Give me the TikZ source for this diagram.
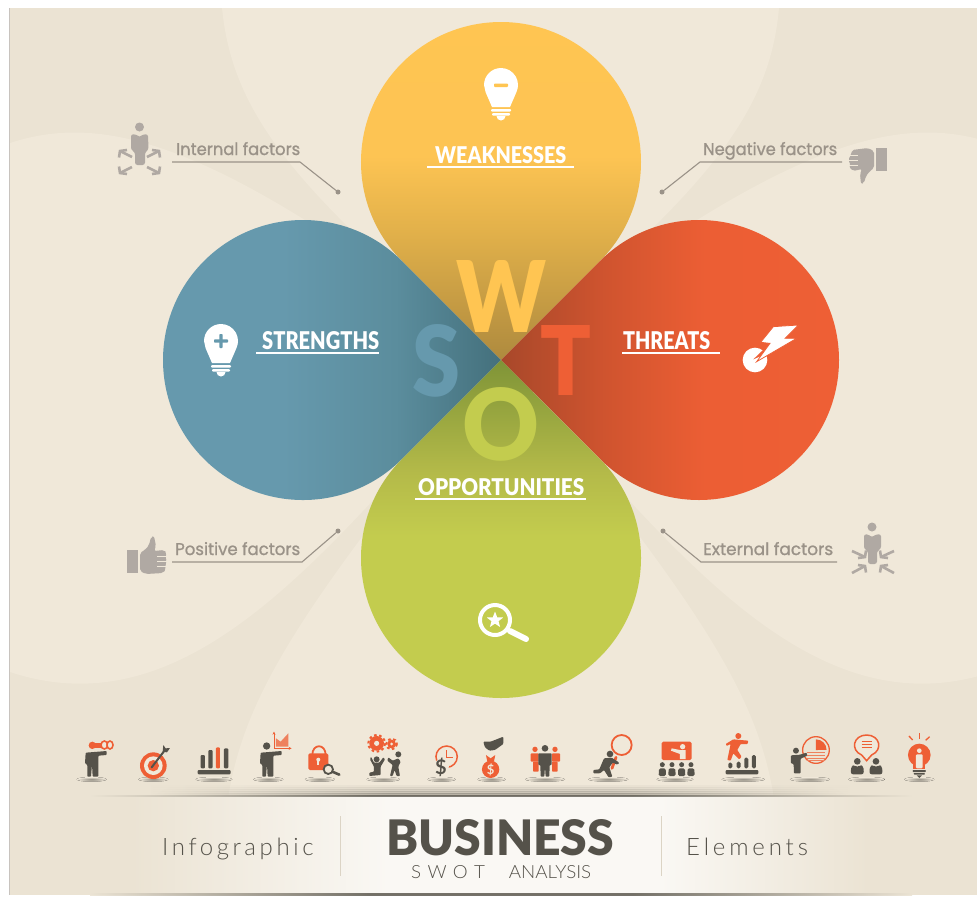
\documentclass[tikz,border=0pt]{standalone}
\usepackage{fontspec}
\usepackage{graphicx}
\usetikzlibrary{arrows.meta}
\setmainfont{Lato}
\newfontfamily\labfont[FakeBold=1]{Poppins}
\newfontfamily\thinfont{Lato Light}
\newfontfamily\heavyfont{Lato Black}
\definecolor{bgd}{HTML}{EBE3D3}
\definecolor{bgl}{HTML}{F0E8D9}
\definecolor{dk}{HTML}{55524A}
\definecolor{org}{HTML}{EE5F35}
\definecolor{gtx}{HTML}{9A9288}
\definecolor{gic}{HTML}{B0A9A3}
\definecolor{yel}{HTML}{FFC552}
\definecolor{blu}{HTML}{6699AD}
\definecolor{grn}{HTML}{C3CC4E}
\definecolor{ya}{HTML}{AE8A3E}\definecolor{yb}{HTML}{E1B04A}\definecolor{yc}{HTML}{FDC453}
\definecolor{ba}{HTML}{44707C}\definecolor{bb}{HTML}{5B8D9D}
\definecolor{ra}{HTML}{A8482A}\definecolor{rb}{HTML}{D0542F}\definecolor{rc}{HTML}{EC5E34}
\definecolor{ga}{HTML}{7F9437}\definecolor{gb}{HTML}{B4BA49}
\definecolor{bandw}{HTML}{FAF8F4}
\definecolor{shd}{HTML}{5E5B52}
\pgfdeclareverticalshading{ptop}{100bp}{color(0bp)=(ya);color(25bp)=(ya);color(43bp)=(yb);color(54bp)=(yc);color(75bp)=(yel);color(100bp)=(yel)}
\pgfdeclarehorizontalshading{pleft}{100bp}{color(0bp)=(blu);color(44bp)=(blu);color(60bp)=(bb);color(75bp)=(ba);color(100bp)=(ba)}
\pgfdeclarehorizontalshading{pright}{100bp}{color(0bp)=(ra);color(25bp)=(ra);color(40bp)=(rb);color(54bp)=(rc);color(75bp)=(org);color(100bp)=(org)}
\pgfdeclareverticalshading{pbot}{100bp}{color(0bp)=(grn);color(50bp)=(grn);color(59bp)=(gb);color(75bp)=(ga);color(100bp)=(ga)}
\pgfdeclarehorizontalshading{bandsh}{100bp}{color(0bp)=(bgd);color(27bp)=(bgd);color(43bp)=(bandw);color(60bp)=(bandw);color(73bp)=(bgd);color(100bp)=(bgd)}
\pgfdeclarehorizontalshading{lineh}{100bp}{color(0bp)=(bgd);color(25bp)=(bgd);color(42bp)=(shd);color(58bp)=(shd);color(75bp)=(bgd);color(100bp)=(bgd)}
\tikzset{
 headtxt/.style={text=white,inner sep=0pt,font=\heavyfont},
 factxt/.style={text=gtx,inner sep=0pt,font=\labfont\fontsize{13.5}{14}\selectfont,anchor=base west},
 bigl/.style={inner sep=0pt,font=\heavyfont\fontsize{100}{100}\selectfont},
 uline/.style={white,line width=2.2pt},
 lead/.style={gtx,line width=1.1pt},
 leaddot/.style={circle,fill=gtx,draw=none,inner sep=0pt,minimum size=5pt},
 iconarr/.style={gic,line width=2.6pt,line join=miter},
 shadow/.style={inner color=shd!65!bgl,outer color=bgl,draw=none},
}
\newcommand{\fitbox}[3]{\resizebox{#1pt}{#2pt}{#3}}
% arrow: tip at (#1,#2), pointing in sign directions #3,#4, tail at (#5,#6)
\newcommand{\chevarr}[6]{%
 \draw[iconarr] (#5,#6) -- (#1,#2);
 \draw[iconarr] (#1-#3*7,#2+#4*1) -- (#1,#2) -- (#1+#3*1,#2-#4*6.5);
}
\newcommand{\bulbicon}[3]{%
 \fill[white] (#1-17,#2) arc[start angle=180,end angle=-25,radius=17pt] -- (#1+9,#2+22) -- (#1-9,#2+22) -- (#1-15.4,#2+7.2) -- cycle;
 \fill[white,rounded corners=1pt] (#1-10,#2+24) rectangle (#1+10,#2+26.5);
 \fill[white,rounded corners=1pt] (#1-9,#2+28) rectangle (#1+9,#2+30.5);
 \fill[white] (#1-4.5,#2+31) arc[start angle=180,end angle=360,radius=4.5pt] -- cycle;
}
\newcommand{\manbody}[1]{\fill[dk,rounded corners=.8pt,shift={(#1,0)}] (47,98) -- (110,93) -- (110,105) -- (85,107) -- (85,170) -- (68,170) -- (66,132) -- (63,170) -- (52,170) -- (52,135) -- (45,130) -- cycle;}
\newcommand{\mygear}[4]{%
 \fill[#4] (#1,#2) circle[radius=#3];
 \draw[#4,line width=2pt,dash pattern=on 2.6pt off 2.6pt] (#1,#2) circle[radius=#3+3];
 \fill[bgl] (#1,#2) circle[radius=#3*0.35];
}
\begin{document}
\begin{tikzpicture}[x=1pt,y=-1pt]
\useasboundingbox (0,0) rectangle (977,898);
\fill[white] (0,0) rectangle (977,898);
% background
\fill[bgd] (10,8) rectangle (977,895);
\draw[gic!70,line width=.6pt] (9.5,8) -- (9.5,895);
\begin{scope}
\clip (10,8) rectangle (977,895);
\fill[bgl] (222,8) .. controls (232,110) and (290,190) .. (501,360) .. controls (712,190) and (770,110) .. (779,8) -- cycle;
\fill[bgl] (222,895) .. controls (222,730) and (250,670) .. (501,360) .. controls (752,670) and (780,730) .. (780,895) -- cycle;
\fill[bgl] (10,143) .. controls (105,112) and (220,140) .. (501,360) .. controls (340,530) and (200,735) .. (10,672) -- cycle;
\fill[bgl] (992,143) .. controls (897,112) and (782,140) .. (501,360) .. controls (662,530) and (802,735) .. (992,672) -- cycle;
\end{scope}
% petals
\path[shading=ptop] (501,360) -- (402,261) arc[start angle=225,end angle=-45,radius=140pt] -- cycle;
\path[shading=pleft] (501,360) -- (402,459) arc[start angle=315,end angle=45,radius=140pt] -- cycle;
\path[shading=pright] (501,360) -- (600,261) arc[start angle=135,end angle=-135,radius=140pt] -- cycle;
\path[shading=pbot] (501,360) -- (600,459) arc[start angle=45,end angle=-225,radius=140pt] -- cycle;
% big letters
\node[bigl,text=yel] (letW) at (501,296) {\fitbox{90}{72}{W}};
\node[bigl,text=blu] (letS) at (436,360.5) {\fitbox{48}{72}{S}};
\node[bigl,text=org] (letT) at (565.5,360) {\fitbox{51}{70}{T}};
\node[bigl,text=grn] (letO) at (500.5,424) {\fitbox{77}{73}{O}};
% headings
\node[headtxt,anchor=base west] (hW) at (435,163) {\fitbox{131}{17}{WEAKNESSES}};
\draw[uline] (427,167) -- (574,167);
\node[headtxt,anchor=base west] (hS) at (262,349) {\fitbox{117}{18}{STRENGTHS}};
\draw[uline] (256,353) -- (379,353);
\node[headtxt,anchor=base west] (hT) at (623,349) {\fitbox{87}{18}{THREATS}};
\draw[uline] (622,353) -- (720,353);
\node[headtxt,anchor=base west] (hO) at (418,495) {\fitbox{166}{17}{OPPORTUNITIES}};
\draw[uline] (415,499) -- (586,499);
% petal icons
\bulbicon{501}{85}{}
\fill[yel,rounded corners=.8pt] (494,83.5) rectangle (508,87);
\bulbicon{221}{341}{}
\fill[blu,rounded corners=.8pt] (214,339.3) rectangle (228,342.7);
\fill[blu,rounded corners=.8pt] (219.3,334) rectangle (222.7,348);
\begin{scope}[shift={(610,310)},x=.3333pt,y=-.3333pt]
\fill[white] (435,150) circle[radius=37];
\fill[org] (430,148) -- (480,100) -- (500,118) -- cycle;
\fill[white,draw=org,line width=.8pt] (490,50) -- (565,45) -- (525,85) -- (560,85) -- (440,155) -- (480,100) -- (452,97) -- cycle;
\end{scope}
\draw[white,line width=4pt] (495,620) circle[radius=15pt];
\draw[white,line width=6pt,line cap=round] (510,631) -- (526,639);
\fill[white] (495,611.5) -- (497.2,617.3) -- (503.2,617.5) -- (498.5,621.2) -- (500.1,627) -- (495,623.6) -- (489.9,627) -- (491.5,621.2) -- (486.8,617.5) -- (492.8,617.3) -- cycle;
% factor labels
\node[factxt] (lint) at (176,155) {\fitbox{124}{13}{Internal factors}};
\node[factxt] (lneg) at (703,155) {\fitbox{134}{13}{Negative factors}};
\node[factxt] (lpos) at (175,555) {\fitbox{125}{13}{Positive factors}};
\node[factxt] (lext) at (703,555) {\fitbox{130}{13}{External factors}};
\coordinate (i1) at (172,162); \coordinate (i2) at (300,162);
\node[leaddot] (idot) at (338,192) {};
\draw[lead] (i1) -- (i2) -- (idot);
\coordinate (n1) at (842,162); \coordinate (n2) at (700,162);
\node[leaddot] (ndot) at (662,192) {};
\draw[lead] (n1) -- (n2) -- (ndot);
\coordinate (p1) at (172,562); \coordinate (p2) at (302,562);
\node[leaddot] (pdot) at (338,531) {};
\draw[lead] (p1) -- (p2) -- (pdot);
\coordinate (e1) at (837,562); \coordinate (e2) at (701,562);
\node[leaddot] (edot) at (663,531) {};
\draw[lead] (e1) -- (e2) -- (edot);
% internal person
\fill[gic] (139.5,127) circle[radius=4.5pt];
\fill[gic,rounded corners=2.5pt] (131,134) -- (138,135) -- (139.5,138) -- (141,135) -- (148,134) -- (148.5,150) -- (145,152) -- (145,165) -- (135,165) -- (135,152) -- (131,150) -- cycle;
\chevarr{120}{151}{-1}{-1}{132}{157}
\chevarr{159}{151}{1}{-1}{147}{157}
\chevarr{120}{173}{-1}{1}{132}{167}
\chevarr{159}{173}{1}{1}{147}{167}
% external person
\fill[gic] (872,527) circle[radius=4.5pt];
\fill[gic,rounded corners=2.5pt] (864,534) -- (870,535) -- (872,538) -- (874,535) -- (881,534) -- (881,549) -- (877,551) -- (877,564) -- (868,564) -- (868,551) -- (864,549) -- cycle;
\chevarr{865}{557}{1}{1}{852}{551}
\chevarr{881}{557}{-1}{1}{894}{551}
\chevarr{865}{566}{1}{-1}{852}{573}
\chevarr{881}{566}{-1}{-1}{894}{573}
% thumb down
\fill[gic] (876,148) rectangle (887,171);
\fill[gic,rounded corners=2pt] (852,150) -- (868,148) -- (874,151) -- (874,168) -- (870,171) -- (866,176) -- (864,183) -- (861,184) -- (860,174) -- (862,169) -- (853,171) -- (849,167) -- (851,165) -- (848,160) -- (851,155) -- cycle;
\foreach \yy in {155,160,165}{\draw[bgl,line width=.5pt] (847,\yy) -- (858,\yy);}
% thumb up
\fill[gic] (127,550) rectangle (138,573);
\fill[gic,rounded corners=2pt] (163,573) -- (146,574) -- (140,571) -- (140,553) -- (146,549) -- (149,545) -- (151,537) -- (154,536) -- (156,546) -- (154,551) -- (164,550) -- (167,553) -- (165,556) -- (167,561) -- (165,565) -- (166,569) -- cycle;
\foreach \yy in {556,561,566}{\draw[bgl,line width=.5pt] (157,\yy) -- (168,\yy);}
% band
\path[shading=bandsh] (100,796) rectangle (900,893);
\foreach \k/\p in {785/.05,787/.1,789/.16,791/.24,793/.38}{
 \path[shading=lineh,opacity=\p] (150,\k) rectangle (850,\k+2);
}
\path[shading=lineh,opacity=.8] (90,795) rectangle (912,796.5);
\path[shading=lineh,opacity=.85] (90,893) rectangle (912,895);
\draw[bgd!60!dk!25!bgd,line width=.7pt] (340,816) -- (340,876);
\draw[bgd!60!dk!25!bgd,line width=.7pt] (661,816) -- (661,876);
\node[inner sep=0pt,text=dk,font=\heavyfont,anchor=base west] (tb) at (386,855) {\fitbox{228}{36}{BUSINESS}};
\node[inner sep=0pt,text=dk,font=\thinfont,anchor=base west] (ts) at (411,878) {\fitbox{180}{13}{S\,\,W\,\,O\,\,T\quad\ ANALYSIS}};
\node[inner sep=0pt,text=dk,font=\thinfont\addfontfeatures{LetterSpace=15}\fontsize{24}{26}\selectfont,anchor=base west] (ti) at (162,855) {Infographic};
\node[inner sep=0pt,text=dk,font=\thinfont\addfontfeatures{LetterSpace=16}\fontsize{24}{26}\selectfont,anchor=base west] (te) at (686,855) {Elements};
% icon row left part
\begin{scope}[shift={(70,720)},x=.3333pt,y=-.3333pt]
\foreach \cx/\rx in {65/45,250/45,432/55,595/45,750/45,940/50,1115/42,1265/42}{
 \fill[shadow] (\cx,178) ellipse[x radius=\rx,y radius=7];
}
% 1 binoculars
\manbody{0}
\fill[org] (67,76) circle[radius=11];
\fill[org] (75,68) rectangle (105,84);
\draw[org,line width=1.6pt,fill=bgl] (103,75) ellipse[x radius=10,y radius=12];
\draw[org,line width=1.6pt,fill=bgl] (120,75) ellipse[x radius=9,y radius=12];
% 2 target
\fill[org] (250,137) circle[radius=40];
\fill[bgl] (250,137) circle[radius=28];
\fill[org] (250,137) circle[radius=17];
\draw[dk,line width=2pt,line cap=round] (245,142) -- (285,90);
\fill[dk] (278,95) -- (280,75) -- (287,85) -- (300,84) -- (291,97) -- cycle;
% 3 bars
\fill[dk,rounded corners=1pt] (383,150) rectangle (482,163);
\fill[dk,rounded corners=1pt] (392,105) rectangle (405,145);
\fill[dk,rounded corners=1pt] (415,90) rectangle (428,145);
\fill[org,rounded corners=1pt] (438,82) rectangle (450,145);
\fill[dk,rounded corners=1pt] (462,85) rectangle (475,145);
% 4 presenter chart
\manbody{525}
\fill[dk] (590,78) circle[radius=11];
\draw[org,line width=.8pt,-{Stealth[length=3pt,width=3pt]}] (612,85) -- (612,35);
\draw[org,line width=.8pt,-{Stealth[length=3pt,width=3pt]}] (612,85) -- (665,85);
\fill[org!75!bgl] (618,80) -- (618,55) -- (632,65) -- (655,40) -- (655,80) -- cycle;
% 5 lock
\draw[org,line width=1.8pt] (727,105) .. controls (727,70) and (767,70) .. (767,105);
\fill[org,rounded corners=1.5pt] (715,100) rectangle (775,150);
\fill[bgl] (745,119) circle[radius=6];
\fill[bgl] (742,120) rectangle (748,135);
\draw[dk,line width=1.8pt,fill=bgl] (775,148) circle[radius=14];
\draw[dk,line width=2.6pt,line cap=round] (787,155) -- (808,164);
% 6 gears and lifters
\mygear{920}{70}{22}{org}
\mygear{965}{72}{13}{org}
\fill[dk] (920,118) circle[radius=9];
\fill[dk,rounded corners=.8pt] (903,110) -- (912,128) -- (928,128) -- (940,112) -- (945,118) -- (932,140) -- (932,165) -- (898,168) -- (898,158) -- (912,155) -- (912,140) -- (900,118) -- cycle;
\fill[dk] (985,103) circle[radius=9];
\fill[dk,rounded corners=.8pt] (955,112) -- (968,122) -- (985,115) -- (992,125) -- (985,140) -- (990,168) -- (980,168) -- (974,150) -- (968,168) -- (960,168) -- (968,135) -- (952,122) -- cycle;
% 7 clock and dollar
\draw[org,line width=1.5pt] (1130,110) circle[radius=32];
\draw[org,line width=1pt] (1130,90) -- (1130,112) -- (1148,112);
\fill[bgl] (1115,138) circle[radius=22];
\node[inner sep=0pt,text=dk,font=\bfseries\fontsize{20}{20}\selectfont] (dol1) at (1113,142) {\$};
% 8 hand and bag
\fill[dk,rounded corners=1pt] (1240,65) -- (1262,65) -- (1300,50) -- (1300,72) -- (1275,90) -- (1258,92) -- (1245,82) -- cycle;
\fill[org] (1262,148) circle[radius=26];
\fill[org] (1248,105) -- (1262,115) -- (1276,105) -- (1272,125) -- (1252,125) -- cycle;
\node[inner sep=0pt,text=bgl,font=\bfseries\fontsize{13}{13}\selectfont] (dol2) at (1262,149) {\$};
\end{scope}
% icon row right part
\begin{scope}[shift={(500,720)},x=.3333pt,y=-.3333pt]
\foreach \cx/\rx in {135/60,325/60,525/55,730/65,930/60,1100/55,1258/45}{
 \fill[shadow] (\cx,178) ellipse[x radius=\rx,y radius=7];
}
% 9 team
\fill[org] (105,88) circle[radius=8];
\fill[org] (165,88) circle[radius=8];
\fill[org,rounded corners=.8pt] (92,100) rectangle (116,125);
\fill[org,rounded corners=.8pt] (99,125) rectangle (116,155);
\fill[org,rounded corners=.8pt] (156,100) rectangle (180,125);
\fill[org,rounded corners=.8pt] (156,125) rectangle (173,155);
\fill[dk] (135,85) circle[radius=10];
\fill[dk,rounded corners=.8pt] (115,100) -- (155,100) -- (155,135) -- (149,135) -- (148,170) -- (137,170) -- (135,140) -- (133,170) -- (122,170) -- (121,135) -- (115,135) -- cycle;
% 10 runner with magnifier
\draw[org,line width=1.8pt] (365,75) circle[radius=30];
\draw[org,line width=2.8pt,line cap=round] (348,112) -- (336,145);
\fill[dk] (330,102) circle[radius=10];
\fill[dk,rounded corners=.8pt] (312,115) -- (335,113) -- (358,128) -- (352,134) -- (338,128) -- (328,142) -- (337,170) -- (326,172) -- (312,150) -- (300,160) -- (280,160) -- (280,150) -- (298,148) -- cycle;
% 11 presentation
\fill[org,rounded corners=1.5pt] (485,65) rectangle (575,120);
\fill[bgl] (548,80) circle[radius=8];
\fill[bgl] (515,85) -- (540,90) -- (557,90) -- (557,117) -- (540,117) -- (540,102) -- (513,92) -- cycle;
\foreach \hx in {487,516,545,573}{
 \fill[dk] (\hx,134) circle[radius=7.5];
 \fill[dk,rounded corners=1.5pt] (\hx-11,168) -- (\hx-10,145) -- (\hx+10,145) -- (\hx+11,168) -- cycle;
}
% 12 runner on bars
\fill[org] (715,48) circle[radius=9];
\fill[org,rounded corners=.8pt] (677,72) -- (700,58) -- (745,62) -- (743,72) -- (722,72) -- (712,90) -- (725,110) -- (718,118) -- (700,100) -- (692,122) -- (682,120) -- (692,72) -- (680,78) -- cycle;
\fill[dk,rounded corners=1pt] (677,150) rectangle (775,163);
\fill[dk,rounded corners=1.5pt] (685,128) rectangle (697,145);
\fill[dk,rounded corners=1.5pt] (710,125) rectangle (722,145);
\fill[dk,rounded corners=1.5pt] (733,113) rectangle (745,145);
\fill[dk,rounded corners=1.5pt] (756,105) rectangle (768,145);
% 13 pie presenter
\draw[org,line width=1.3pt] (948,90) circle[radius=40];
\fill[org] (948,90) -- (948,58) arc[start angle=90,end angle=0,radius=10.6pt] -- cycle;
\foreach \yy in {98,106,114,122}{\draw[org!75!bgl,line width=.9pt] (920,\yy) -- (975,\yy);}
\fill[dk] (888,92) circle[radius=9];
\fill[dk,rounded corners=.8pt] (873,106) -- (900,104) -- (920,98) -- (922,107) -- (902,116) -- (902,160) -- (882,160) -- (881,132) -- (873,130) -- cycle;
% 14 speech bubble
\draw[org,line width=1.5pt,fill=bgl] (1085,105) .. controls (1050,90) and (1060,45) .. (1100,45) .. controls (1140,45) and (1150,90) .. (1115,105) -- (1100,122) -- cycle;
\foreach \yy in {65,74,83}{\draw[org,line width=.9pt] (1085,\yy) -- (1117,\yy);}
\foreach \hx in {1072,1128}{
 \fill[dk] (\hx,124) circle[radius=10];
 \fill[dk,rounded corners=2.5pt] (\hx-20,163) -- (\hx-18,138) -- (\hx-8,135) -- (\hx,143) -- (\hx+8,135) -- (\hx+18,138) -- (\hx+20,163) -- cycle;
}
% 15 idea bulb
\fill[org] (1258,105) circle[radius=34];
\fill[org] (1240,125) rectangle (1276,148);
\fill[bgl] (1258,92) circle[radius=7];
\fill[bgl,rounded corners=1pt] (1248,103) rectangle (1268,145);
\fill[dk,rounded corners=.8pt] (1238,150) rectangle (1278,156);
\fill[dk,rounded corners=.8pt] (1241,159) rectangle (1275,164);
\fill[dk] (1250,166) -- (1266,166) -- (1258,174) -- cycle;
\draw[org,line width=1.3pt] (1227,48) -- (1238,60);
\draw[org,line width=1.3pt] (1258,40) -- (1258,56);
\draw[org,line width=1.3pt] (1289,50) -- (1277,61);
\end{scope}
\end{tikzpicture}
\end{document}
